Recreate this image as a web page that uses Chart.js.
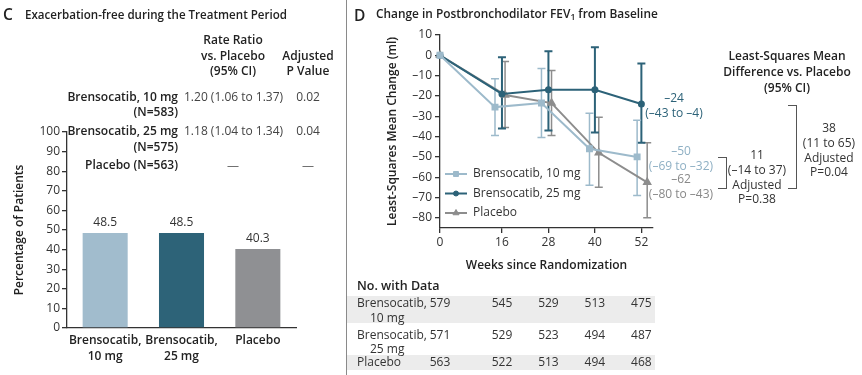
<!DOCTYPE html>
<html>
<head>
<meta charset="utf-8">
<script src="https://cdn.jsdelivr.net/npm/chart.js@4.4.1/dist/chart.umd.min.js"></script>
<style>
body { margin: 0; background: #fff; }
#wrap { position: relative; width: 862px; height: 375px; overflow: hidden; font-family: "Open Sans", sans-serif; color: #222; background: #fff; }
canvas { position: absolute; }
.t { position: absolute; white-space: nowrap; font-size: 12px; line-height: 14px; }
.b { font-weight: 600; }
.box { position: absolute; }
</style>
</head>
<body>
<div id="wrap">
  <canvas id="chartC" width="346" height="375" style="left:0;top:0"></canvas>
  <canvas id="chartD" width="515" height="280" style="left:347px;top:0"></canvas>
  <div class="box" style="left:345.5px;top:0;width:1px;height:375px;background:#8a8a8a"></div>
</div>
<script>
// --- Panel C: exacerbation-free ---
const barLabels = [['Brensocatib,', '10 mg'], ['Brensocatib,', '25 mg'], 'Placebo'];
const barValues = [48.5, 48.5, 40.3];
const barColors = ['#a1bccd', '#2d6378', '#8f9093'];

// --- Panel D: FEV1 change ---
const weeks = [0, 16, 28, 40, 52];
const fevTicks = [10, 0, -10, -20, -30, -40, -50, -60, -70, -80];
// plotted x positions (groups are dodged around each visit)
const x10 = [0, 14.2, 26.2, 38.6, 50.9];
const x25 = [0, 16, 28, 40, 52];
const xPbo = [0, 16.8, 28.8, 41, 53.5];
const mean10 = [0, -25.5, -23.5, -46, -50];
const lo10 = [null, -39.5, -40.5, -64, -69];
const hi10 = [null, -11.5, -6.5, -28.5, -32];
const mean25 = [0, -19, -17, -17, -24];
const lo25 = [null, -36, -37, -38, -43];
const hi25 = [null, -1, 2, 4, -4];
const meanPbo = [0, -19.5, -23.5, -48, -62.5];
const loPbo = [null, -35.5, -39.5, -65, -80];
const hiPbo = [null, -3, -7.5, -30.5, -43];

const n10 = [579, 545, 529, 513, 475];
const n25 = [571, 529, 523, 494, 487];
const nPbo = [563, 522, 513, 494, 468];

const col10 = '#9dbacb', col25 = '#2c6278', colPbo = '#8d8d8d';

Chart.defaults.font.family = '"Open Sans", sans-serif';
Chart.defaults.color = '#333';

const wrap = document.getElementById('wrap');
function txt(s, x, y, align, opts) {
  opts = opts || {};
  const d = document.createElement('div');
  d.className = 't' + (opts.bold ? ' b' : '');
  d.textContent = s;
  d.style.left = x + 'px';
  d.style.top = y + 'px';
  if (opts.size) d.style.fontSize = opts.size + 'px';
  if (opts.color) d.style.color = opts.color;
  const tx = align === 'c' ? '-50%' : align === 'r' ? '-100%' : '0';
  d.style.transform = 'translate(' + tx + ',-50%)';
  wrap.appendChild(d);
  return d;
}
// shrink/grow a heading so it spans the same width as in the figure
function fitWidth(el, target) {
  const w = el.getBoundingClientRect().width;
  const fs = parseFloat(getComputedStyle(el).fontSize);
  el.style.fontSize = (fs * target / w).toFixed(2) + 'px';
}

// bar value labels
const barValueLabels = {
  id: 'barValueLabels',
  afterDatasetsDraw(chart) {
    const ctx = chart.ctx;
    const meta = chart.getDatasetMeta(0);
    ctx.save();
    ctx.font = '12px "Open Sans"';
    ctx.fillStyle = '#333';
    ctx.textAlign = 'center';
    ctx.textBaseline = 'middle';
    meta.data.forEach((bar, i) => {
      ctx.fillText(barValues[i].toFixed(1), bar.x, bar.y - 10);
    });
    ctx.restore();
  }
};

new Chart(document.getElementById('chartC'), {
  type: 'bar',
  data: {
    labels: barLabels,
    datasets: [{
      data: barValues,
      backgroundColor: barColors,
      barPercentage: 0.59,
      categoryPercentage: 1
    }]
  },
  options: {
    responsive: false,
    animation: false,
    layout: { padding: { left: 0, top: 132, right: 50, bottom: 7 } },
    plugins: { legend: { display: false }, tooltip: { enabled: false } },
    scales: {
      x: {
        grid: { display: false, drawTicks: false },
        border: { color: '#333', width: 1.3 },
        ticks: { color: '#222', font: { size: 12, weight: '600', lineHeight: 1.33 }, padding: 5, maxRotation: 0 },
        afterFit(s) { s.height = 40; }
      },
      y: {
        min: 0, max: 100,
        ticks: { stepSize: 10, color: '#333', font: { size: 12 }, padding: 2 },
        grid: { drawOnChartArea: false, tickLength: 5, color: '#333', lineWidth: 1.3 },
        border: { color: '#333', width: 1.3 },
        title: { display: true, text: 'Percentage of Patients', color: '#222', font: { size: 12, weight: '600' }, padding: { top: 12.8 } },
        afterFit(s) { s.width = 67; }
      }
    }
  },
  plugins: [barValueLabels]
});

// error bars drawn from each dataset's lo/hi arrays through the chart scales
const errorBars = {
  id: 'errorBars',
  beforeDatasetsDraw(chart) {
    const { ctx, scales: { x, y } } = chart;
    chart.data.datasets.slice().reverse().forEach(ds => {
      ctx.save();
      ctx.strokeStyle = ds.borderColor;
      ctx.lineWidth = ds.errWidth;
      ds.data.forEach((p, i) => {
        if (ds.lo[i] == null) return;
        const px = x.getPixelForValue(p.x);
        const y1 = y.getPixelForValue(ds.lo[i]);
        const y2 = y.getPixelForValue(ds.hi[i]);
        ctx.beginPath();
        ctx.moveTo(px, y1); ctx.lineTo(px, y2);
        ctx.moveTo(px - 4, y1); ctx.lineTo(px + 4, y1);
        ctx.moveTo(px - 4, y2); ctx.lineTo(px + 4, y2);
        ctx.stroke();
      });
      ctx.restore();
    });
  }
};

// legend inside the plot area
const inlineLegend = {
  id: 'inlineLegend',
  afterDraw(chart) {
    const { ctx, chartArea } = chart;
    chart.data.datasets.forEach((ds, i) => {
      const y = chartArea.top + 139 + i * 19.5;
      const x0 = chartArea.left + 5;
      ctx.save();
      ctx.strokeStyle = ds.borderColor;
      ctx.lineWidth = 2;
      ctx.beginPath(); ctx.moveTo(x0, y); ctx.lineTo(x0 + 22, y); ctx.stroke();
      ctx.fillStyle = ds.pointBackgroundColor;
      ctx.lineWidth = 1;
      Chart.helpers.drawPoint(ctx, { pointStyle: ds.pointStyle, radius: ds.pointRadius, borderWidth: 1 }, x0 + 11, y);
      ctx.fillStyle = '#333';
      ctx.font = '12px "Open Sans"';
      ctx.textBaseline = 'middle';
      ctx.fillText(ds.label, x0 + 28, y);
      ctx.restore();
    });
  }
};

function pts(xs, ys) { return xs.map((x, i) => ({ x: x, y: ys[i] })); }
function dash(v) { return String(v).replace('-', '\u2013'); }

const chartD = new Chart(document.getElementById('chartD'), {
  type: 'line',
  data: {
    datasets: [
      { label: 'Brensocatib, 10 mg', data: pts(x10, mean10), lo: lo10, hi: hi10, errWidth: 1.5,
        borderColor: col10, backgroundColor: col10, pointBackgroundColor: col10, pointBorderColor: col10,
        pointStyle: 'rect', pointRadius: 3.5, borderWidth: 2 },
      { label: 'Brensocatib, 25 mg', data: pts(x25, mean25), lo: lo25, hi: hi25, errWidth: 2,
        borderColor: col25, backgroundColor: col25, pointBackgroundColor: col25, pointBorderColor: col25,
        pointStyle: 'circle', pointRadius: 2.5, borderWidth: 2 },
      { label: 'Placebo', data: pts(xPbo, meanPbo), lo: loPbo, hi: hiPbo, errWidth: 1.5,
        borderColor: colPbo, backgroundColor: colPbo, pointBackgroundColor: colPbo, pointBorderColor: colPbo,
        pointStyle: 'triangle', pointRadius: 3.5, borderWidth: 2 }
    ]
  },
  options: {
    responsive: false,
    animation: false,
    clip: false,
    layout: { padding: { left: 0, top: 35, right: 209, bottom: 0 } },
    plugins: { legend: { display: false }, tooltip: { enabled: false } },
    scales: {
      x: {
        type: 'linear', min: 0, max: 55,
        afterBuildTicks(s) { s.ticks = weeks.map(v => ({ value: v })); },
        ticks: { color: '#333', font: { size: 12 }, padding: 2 },
        grid: { drawOnChartArea: false, tickLength: 5, color: '#333', lineWidth: 1.3 },
        border: { color: '#333', width: 1.3 },
        title: { display: true, text: 'Weeks since Randomization', color: '#222', font: { size: 12, weight: '600' }, padding: { bottom: 6.8 } },
        afterFit(s) { s.height = 52; }
      },
      y: {
        min: -85, max: 10,
        afterBuildTicks(s) { s.ticks = fevTicks.map(v => ({ value: v })); },
        ticks: { color: '#333', font: { size: 12 }, padding: 3, callback: v => dash(v) },
        grid: { drawOnChartArea: false, tickLength: 5, color: '#333', lineWidth: 1.3 },
        border: { color: '#333', width: 1.3 },
        title: { display: true, text: 'Least-Squares Mean Change (ml)', color: '#222', font: { size: 12, weight: '600' }, padding: { top: 38.8 } },
        afterFit(s) { s.width = 93; }
      }
    }
  },
  plugins: [errorBars, inlineLegend]
});

// --- HTML text, panel C ---
txt('C', 3, 14, 'l', { bold: true, size: 15.5 });
const tC = txt('Exacerbation-free during the Treatment Period', 25, 14.5, 'l', { bold: true, size: 12.5 });
fitWidth(tC, 262);
txt('Rate Ratio', 233, 40, 'c', { bold: true });
txt('vs. Placebo', 233, 56, 'c', { bold: true });
txt('(95% CI)', 233, 71, 'c', { bold: true });
txt('Adjusted', 308, 56, 'c', { bold: true });
txt('P Value', 308, 71, 'c', { bold: true });
txt('Brensocatib, 10 mg', 178, 97, 'r', { bold: true });
txt('(N=583)', 178, 112, 'r', { bold: true });
txt('1.20 (1.06 to 1.37)', 184, 97, 'l', { color: '#444' });
txt('0.02', 308, 97, 'c', { color: '#444' });
txt('Brensocatib, 25 mg', 178, 131, 'r', { bold: true });
txt('(N=575)', 178, 147, 'r', { bold: true });
txt('1.18 (1.04 to 1.34)', 184, 131, 'l', { color: '#444' });
txt('0.04', 308, 131, 'c', { color: '#444' });
txt('Placebo (N=563)', 178, 164.5, 'r', { bold: true });
txt('\u2014', 233, 166, 'c', { color: '#666' });
txt('\u2014', 308, 166, 'c', { color: '#666' });

// --- HTML text, panel D ---
txt('D', 354, 14.5, 'l', { bold: true, size: 15.5 });
const tD = txt('', 376, 14.5, 'l', { bold: true, size: 12.5 });
tD.innerHTML = 'Change in Postbronchodilator FEV<sub style="font-size:0.72em;vertical-align:-0.15em">1</sub> from Baseline';
fitWidth(tD, 282);

txt('Least-Squares Mean', 787, 56, 'c', { bold: true });
txt('Difference vs. Placebo', 787, 72, 'c', { bold: true });
txt('(95% CI)', 787, 88, 'c', { bold: true });

txt(dash(mean25[4]), 674, 98, 'c', { color: col25 });
txt('(' + dash(lo25[4]) + ' to ' + dash(hi25[4]) + ')', 674, 113, 'c', { color: col25 });
txt(dash(mean10[4]), 681, 151, 'c', { color: '#8fb0c4' });
txt('(' + dash(lo10[4]) + ' to ' + dash(hi10[4]) + ')', 681, 166, 'c', { color: '#8fb0c4' });
txt('\u201362', 681, 179, 'c', { color: '#888' });
txt('(' + dash(loPbo[4]) + ' to ' + dash(hiPbo[4]) + ')', 681, 194, 'c', { color: '#888' });

function bracket(x, y1, y2) {
  const d = document.createElement('div');
  d.className = 'box';
  d.style.left = (x - 9) + 'px';
  d.style.top = y1 + 'px';
  d.style.width = '8px';
  d.style.height = (y2 - y1) + 'px';
  d.style.border = '1.3px solid #555';
  d.style.borderLeft = 'none';
  wrap.appendChild(d);
}
bracket(727, 157, 187);
bracket(797, 105, 187);

txt('11', 757, 155, 'c', { color: '#333' });
txt('(\u201314 to 37)', 757, 170, 'c', { color: '#333' });
txt('Adjusted', 757, 184.5, 'c', { color: '#333' });
txt('P=0.38', 757, 199, 'c', { color: '#333' });
txt('38', 829, 128, 'c', { color: '#333' });
txt('(11 to 65)', 829, 143, 'c', { color: '#333' });
txt('Adjusted', 829, 158, 'c', { color: '#333' });
txt('P=0.04', 829, 172, 'c', { color: '#333' });

// --- No. with data table ---
[[296, 323], [355, 370]].forEach(r => {
  const d = document.createElement('div');
  d.className = 'box';
  d.style.left = '347px'; d.style.width = '308px';
  d.style.top = r[0] + 'px'; d.style.height = (r[1] - r[0]) + 'px';
  d.style.background = '#ececec';
  wrap.insertBefore(d, wrap.firstChild);
});
txt('No. with Data', 357, 285.5, 'l', { bold: true, size: 12.5 });
txt('Brensocatib,', 357, 303, 'l', { color: '#333' });
txt('10 mg', 370, 318, 'l', { color: '#333' });
txt('Brensocatib,', 357, 335, 'l', { color: '#333' });
txt('25 mg', 370, 349, 'l', { color: '#333' });
txt('Placebo', 357, 362, 'l', { color: '#333' });
const xs = chartD.scales.x;
[[n10, 303], [n25, 335], [nPbo, 362]].forEach(row => {
  row[0].forEach((n, i) => {
    txt(String(n), 347 + xs.getPixelForValue(weeks[i]), row[1], 'c', { color: '#333' });
  });
});
</script>
</body>
</html>
